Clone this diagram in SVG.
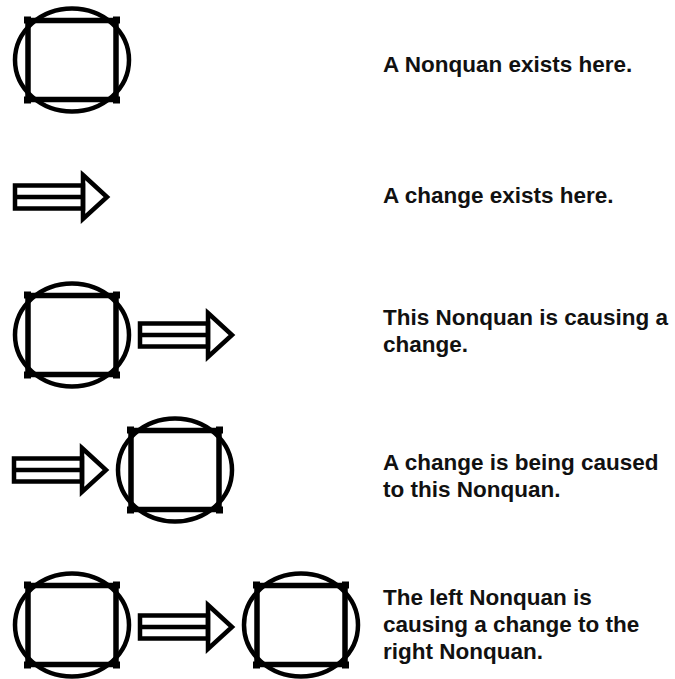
<svg xmlns="http://www.w3.org/2000/svg" xmlns:xlink="http://www.w3.org/1999/xlink" width="675" height="679" viewBox="0 0 675 679">
<style>
.ln{fill:none;stroke:#000;stroke-width:4.5;stroke-linejoin:miter}
.sq{fill:none;stroke:#000;stroke-width:5.5}
.cn{fill:#000}
.t{font-family:"Liberation Sans",Arial,sans-serif;font-weight:bold;font-size:22.5px;fill:#111}
</style>
<defs>
<g id="nonquan">
<ellipse class="ln" cx="0" cy="0" rx="57" ry="51.5"/>
<rect class="sq" x="-44" y="-39.5" width="88" height="79"/>
<rect class="cn" x="-48" y="-43.5" width="7" height="7"/>
<rect class="cn" x="41" y="-43.5" width="7" height="7"/>
<rect class="cn" x="-48" y="36.5" width="7" height="7"/>
<rect class="cn" x="41" y="36.5" width="7" height="7"/>
</g>
<g id="change">
<rect class="ln" x="2" y="-11.5" width="68" height="23"/>
<line class="ln" x1="2" y1="0" x2="70" y2="0"/>
<polygon class="ln" points="70,-22 94,0 70,22" fill="#fff"/>
</g>
</defs>
<rect width="675" height="679" fill="#fff"/>
<g id="nonquan-1"><use xlink:href="#nonquan" transform="translate(72,60)"/></g>
<g id="nonquan-3"><use xlink:href="#nonquan" transform="translate(72,335)"/></g>
<g id="nonquan-4"><use xlink:href="#nonquan" transform="translate(175,470)"/></g>
<g id="nonquan-5a"><use xlink:href="#nonquan" transform="translate(72,625)"/></g>
<g id="nonquan-5b"><use xlink:href="#nonquan" transform="translate(301,625)"/></g>
<g id="connectors">
<use xlink:href="#change" transform="translate(13,197)"/>
<use xlink:href="#change" transform="translate(138,335)"/>
<use xlink:href="#change" transform="translate(12,470)"/>
<use xlink:href="#change" transform="translate(138,627)"/>
</g>
<g id="labels" class="t">
<text x="383" y="72">A Nonquan exists here.</text>
<text x="383" y="203">A change exists here.</text>
<text x="383" y="325">This Nonquan is causing a</text>
<text x="383" y="352">change.</text>
<text x="383" y="470">A change is being caused</text>
<text x="383" y="497">to this Nonquan.</text>
<text x="383" y="605">The left Nonquan is</text>
<text x="383" y="632">causing a change to the</text>
<text x="383" y="659">right Nonquan.</text>
</g>
</svg>
